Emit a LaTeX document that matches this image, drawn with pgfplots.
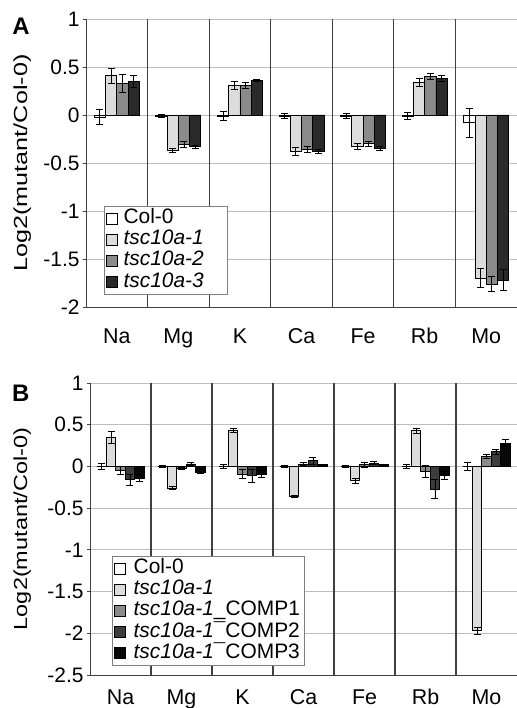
\documentclass[border=0pt]{standalone}
\usepackage{fontspec}
\setmainfont{Liberation Sans}
\usepackage{pgfplots}
\pgfplotsset{compat=1.18}

\definecolor{cA}{HTML}{FFFFFF}
\definecolor{cB}{HTML}{DCDCDC}
\definecolor{cC}{HTML}{8A8A8A}
\definecolor{cD}{HTML}{2A2A2A}
\definecolor{cE}{HTML}{3C3C3C}
\definecolor{cF}{HTML}{080808}
\definecolor{gridc}{HTML}{BDBDBD}
\definecolor{sepc}{HTML}{404040}

\pgfplotsset{
 panel/.style={
  scale only axis,
  clip mode=individual,
  axis lines=left, axis line style={-, sepc, line width=0.9bp},
  xmin=-0.5, xmax=6.5,
  xtick={0,1,2,3,4,5,6}, xticklabels={Na,Mg,K,Ca,Fe,Rb,Mo},
  x tick style={draw=none},
  extra x ticks={0.5,1.5,2.5,3.5,4.5,5.5},
  extra x tick labels={},
  extra x tick style={grid=major, tick style={draw=none}},
  x grid style={sepc, line width=1.1bp},
  ymajorgrids, y grid style={gridc, line width=0.9bp},
  tick align=outside, y tick style={sepc, line width=0.8bp}, major tick length=3bp,
  ybar=0pt,
  yticklabel style={font=\fontsize{21}{23}\selectfont},
  xticklabel style={font=\fontsize{21.5}{23}\selectfont, text height=15.8bp, text depth=4.6bp, anchor=north},
  error bars/y dir=both, error bars/y explicit,
  error bars/error bar style={black, line width=0.8bp},
  error bars/error mark options={rotate=90, mark size=3.5bp, line width=0.8bp, black},
  every axis plot/.append style={draw=black, line width=0.8bp},
  legend image code/.code={\draw[#1, /tikz/.cd, line width=0.8bp, draw=black] (0bp,-5.5bp) rectangle (11bp,5.5bp);},
  legend cell align=left,
  legend style={draw=gray, line width=0.8bp, fill=white,
    font=\fontsize{21}{21}\selectfont, inner sep=2bp,
    nodes={inner sep=0.5bp, text height=14.5bp, text depth=4.5bp},
    row sep=1.2bp,
    /tikz/every odd column/.append style={column sep=5bp}},
 }
}

\begin{document}
\begin{tikzpicture}[x=1bp,y=1bp]
\useasboundingbox (0,0) rectangle (517,708);

% ---------------- Panel A ----------------
\begin{axis}[panel,
  at={(86bp,401bp)}, anchor=south west,
  width=431bp, height=288bp,
  ymin=-2, ymax=1,
  ytick={-2,-1.5,-1,-0.5,0,0.5,1},
  yticklabels={-2,-1.5,-1,-0.5,0,0.5,1},
  bar width=0.183,
  xticklabel style={yshift=-14bp},
  ylabel={Log2(mutant/Col-0)},
  ylabel style={at={(axis description cs:-0.148,0.5)}, anchor=center, font=\fontsize{19}{21}\selectfont, xscale=1.33},
  legend style={at={(axis cs:-0.21,-0.95)}, anchor=north west,
    /tikz/every even column/.append style={text width=101bp}},
]
\addplot[fill=cA] coordinates {(0,-0.02)+-(0,0.08) (1,-0.01)+-(0,0.02) (2,-0.01)+-(0,0.05) (3,-0.01)+-(0,0.03) (4,-0.01)+-(0,0.03) (5,-0.01)+-(0,0.035) (6,-0.08)+-(0,0.15)};
\addlegendentry{Col-0}
\addplot[fill=cB] coordinates {(0,0.41)+-(0,0.08) (1,-0.37)+-(0,0.02) (2,0.31)+-(0,0.04) (3,-0.38)+-(0,0.04) (4,-0.33)+-(0,0.03) (5,0.34)+-(0,0.04) (6,-1.70)+-(0,0.10)};
\addlegendentry{\textit{tsc10a-1}}
\addplot[fill=cC] coordinates {(0,0.33)+-(0,0.09) (1,-0.31)+-(0,0.03) (2,0.31)+-(0,0.03) (3,-0.36)+-(0,0.03) (4,-0.30)+-(0,0.03) (5,0.40)+-(0,0.03) (6,-1.76)+-(0,0.08)};
\addlegendentry{\textit{tsc10a-2}}
\addplot[fill=cD] coordinates {(0,0.35)+-(0,0.065) (1,-0.33)+-(0,0.015) (2,0.36)+-(0,0.015) (3,-0.38)+-(0,0.025) (4,-0.35)+-(0,0.02) (5,0.38)+-(0,0.035) (6,-1.72)+-(0,0.11)};
\addlegendentry{\textit{tsc10a-3}}
\node[font=\bfseries\fontsize{24}{24}\selectfont] at (axis description cs:-0.151,0.975) {A};
\end{axis}

% ---------------- Panel B ----------------
\begin{axis}[panel,
  at={(90bp,33bp)}, anchor=south west,
  width=427bp, height=292bp,
  ymin=-2.5, ymax=1,
  ytick={-2.5,-2,-1.5,-1,-0.5,0,0.5,1},
  yticklabels={-2.5,-2,-1.5,-1,-0.5,0,0.5,1},
  bar width=0.155,
  xticklabel style={yshift=-7bp},
  ylabel={Log2(mutant/Col-0)},
  ylabel style={at={(axis description cs:-0.159,0.5)}, anchor=center, font=\fontsize{19}{21}\selectfont, xscale=1.24},
  legend style={at={(axis cs:-0.14,-1.076)}, anchor=north west,
    /tikz/every odd column/.append style={column sep=7bp},
    /tikz/every even column/.append style={text width=168bp}},
]
\addplot[fill=cA] coordinates {(0,0)+-(0,0.04) (1,0)+-(0,0.015) (2,0)+-(0,0.02) (3,0)+-(0,0.015) (4,0)+-(0,0.015) (5,0)+-(0,0.02) (6,0)+-(0,0.05)};
\addlegendentry{Col-0}
\addplot[fill=cB] coordinates {(0,0.35)+-(0,0.075) (1,-0.26)+-(0,0.015) (2,0.43)+-(0,0.025) (3,-0.36)+-(0,0.01) (4,-0.17)+-(0,0.03) (5,0.43)+-(0,0.03) (6,-1.97)+-(0,0.04)};
\addlegendentry{\textit{tsc10a-1}}
\addplot[fill=cC] coordinates {(0,-0.05)+-(0,0.05) (1,-0.02)+-(0,0.01) (2,-0.09)+-(0,0.05) (3,0.03)+-(0,0.02) (4,0.02)+-(0,0.03) (5,-0.06)+-(0,0.07) (6,0.12)+-(0,0.02)};
\addlegendentry{\textit{tsc10a-1}\_COMP1}
\addplot[fill=cE] coordinates {(0,-0.16)+-(0,0.07) (1,0.03)+-(0,0.02) (2,-0.11)+-(0,0.08) (3,0.07)+-(0,0.04) (4,0.04)+-(0,0.015) (5,-0.27)+-(0,0.11) (6,0.18)+-(0,0.03)};
\addlegendentry{\textit{tsc10a-1}¯COMP2}
\addplot[fill=cF] coordinates {(0,-0.14)+-(0,0.04) (1,-0.07)+-(0,0.01) (2,-0.09)+-(0,0.04) (3,0.02)+-(0,0.01) (4,0.02)+-(0,0.01) (5,-0.11)+-(0,0.05) (6,0.28)+-(0,0.04)};
\addlegendentry{\textit{tsc10a-1}¯COMP3}
\node[font=\bfseries\fontsize{24}{24}\selectfont] at (axis description cs:-0.162,0.965) {B};
\end{axis}
\end{tikzpicture}
\end{document}
